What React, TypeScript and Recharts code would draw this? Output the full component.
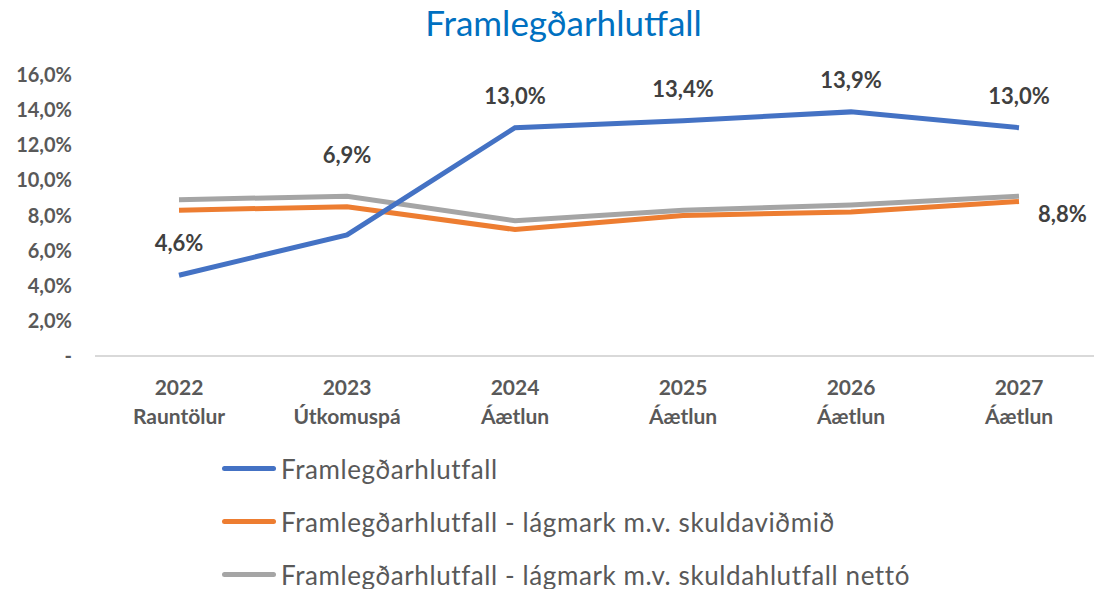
import { LineChart, Line, XAxis, YAxis, LabelList } from 'recharts'

const years = ['2022', '2023', '2024', '2025', '2026', '2027']
const phases = ['Rauntölur', 'Útkomuspá', 'Áætlun', 'Áætlun', 'Áætlun', 'Áætlun']
const framlegd = [4.6, 6.9, 13.0, 13.4, 13.9, 13.0]
const lagmarkSkuldavidmid = [8.3, 8.5, 7.2, 8.0, 8.2, 8.8]
const lagmarkSkuldahlutfall = [8.9, 9.1, 7.7, 8.3, 8.6, 9.1]
const yTicks = [0, 2, 4, 6, 8, 10, 12, 14, 16]

const seriesNames = [
  'Framlegðarhlutfall',
  'Framlegðarhlutfall - lágmark m.v. skuldaviðmið',
  'Framlegðarhlutfall - lágmark m.v. skuldahlutfall nettó',
]
const colors = ['#4472C4', '#ED7D31', '#A5A5A5']

const data = years.map((y, i) => ({
  year: y,
  phase: phases[i],
  a: framlegd[i],
  b: lagmarkSkuldavidmid[i],
  c: lagmarkSkuldahlutfall[i],
}))

const FONT = 'Lato, "Open Sans", sans-serif'
const fmt = (v: number) => (v === 0 ? '-' : v.toFixed(1).replace('.', ',') + '%')

function XTick({ x, y, payload, index }: any) {
  return (
    <g transform={`translate(${x},${y})`}>
      <text textAnchor="middle" fill="#595959" fontSize={21} fontWeight={700} fontFamily={FONT}>
        <tspan x={0} dy={31}>{payload.value}</tspan>
        <tspan x={0} dy={29}>{phases[index]}</tspan>
      </text>
    </g>
  )
}

function YTick({ y, payload }: any) {
  return (
    <text x={72} y={y + 7} textAnchor="end" fill="#595959" fontSize={20} fontWeight={700} fontFamily={FONT}>
      {fmt(payload.value)}
    </text>
  )
}

// blue labels sit above the points, the 2023 one was pushed further up
function BlueLabel({ x, y, value, index }: any) {
  const up = index === 1 ? 72 : 24
  return (
    <text x={x} y={y - up} textAnchor="middle" fill="#404040" fontSize={22} fontWeight={700} fontFamily={FONT}>
      {fmt(value)}
    </text>
  )
}

function OrangeLabel({ x, y, value, index }: any) {
  if (index !== years.length - 1) return null
  return (
    <text x={x + 19} y={y + 21} textAnchor="start" fill="#404040" fontSize={22} fontWeight={700} fontFamily={FONT}>
      {fmt(value)}
    </text>
  )
}

export default function App() {
  return (
    <div style={{ position: 'absolute', left: 0, top: 0, width: 1094, height: 589, overflow: 'hidden', background: '#fff', fontFamily: FONT }}>
      <div style={{ position: 'absolute', left: 0, top: 5, width: 1127, textAlign: 'center', fontSize: 35, lineHeight: '35px', color: '#0070C0' }}>
        Framlegðarhlutfall
      </div>
      <LineChart width={1094} height={589} data={data} margin={{ top: 75, right: 0, bottom: 153, left: 0 }}>
        <XAxis
          dataKey="year"
          height={80}
          padding={{ left: 84, right: 75 }}
          tickLine={false}
          axisLine={{ stroke: '#D9D9D9', strokeWidth: 2 }}
          tick={<XTick />}
          interval={0}
        />
        <YAxis
          width={95}
          domain={[0, 16]}
          ticks={yTicks}
          axisLine={false}
          tickLine={false}
          tick={<YTick />}
        />
        <Line dataKey="c" stroke={colors[2]} strokeWidth={5} dot={false} isAnimationActive={false} />
        <Line dataKey="b" stroke={colors[1]} strokeWidth={5} dot={false} isAnimationActive={false}>
          <LabelList dataKey="b" content={<OrangeLabel />} />
        </Line>
        <Line dataKey="a" stroke={colors[0]} strokeWidth={5} dot={false} isAnimationActive={false}>
          <LabelList dataKey="a" content={<BlueLabel />} />
        </Line>
      </LineChart>
      <div style={{ position: 'absolute', left: 222, top: 442 }}>
        {seriesNames.map((name, i) => (
          <div key={name} style={{ display: 'flex', alignItems: 'center', height: 53 }}>
            <div style={{ width: 54, height: 5, borderRadius: 3, background: colors[i], marginRight: 5 }} />
            <span style={{ fontSize: 26, color: '#595959', lineHeight: '30px', letterSpacing: 0.6 }}>{name}</span>
          </div>
        ))}
      </div>
    </div>
  )
}
